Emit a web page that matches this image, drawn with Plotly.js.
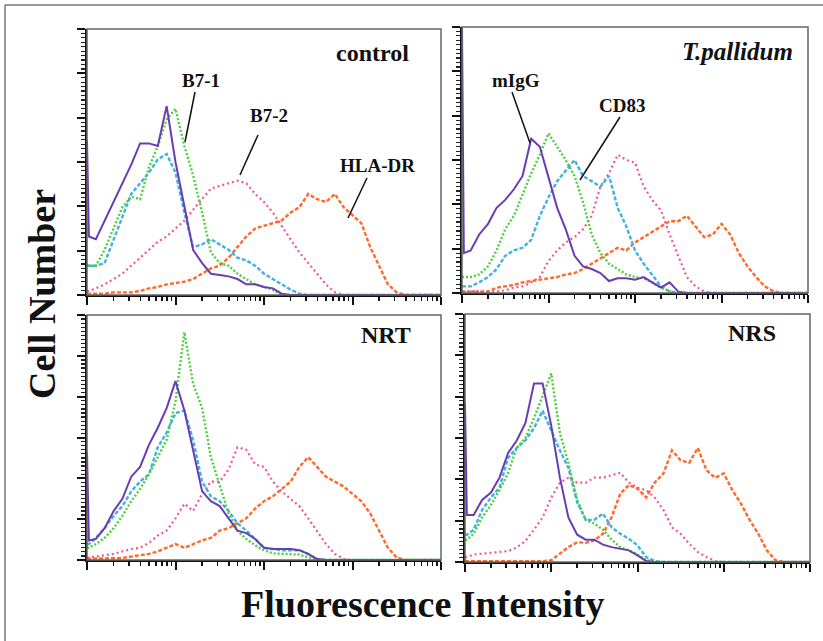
<!DOCTYPE html>
<html>
<head>
<meta charset="utf-8">
<script src="https://cdn.plot.ly/plotly-3.0.1.min.js"></script>
<style>html,body{margin:0;padding:0;background:#fff;}#chart{width:823px;height:641px;}</style>
</head>
<body>
<div id="chart"></div>
<script>
// Fluorescence intensity channels (log scale, 10^0 .. 10^4)
const intensity = [1, 1.05, 1.26, 1.58, 2.0, 2.51, 3.16, 3.98, 5.01, 6.31, 7.94,
  10, 12.6, 15.8, 20, 25.1, 31.6, 39.8, 50.1, 63.1, 79.4,
  100, 126, 158, 200, 251, 316, 398, 501, 631, 794,
  1000, 1259, 1585, 1995, 2512, 3162, 3981, 5012, 6310, 7943, 10000];

const seriesNames = ["mIgG", "B7-1", "CD83", "B7-2", "HLA-DR"];
const panelNames = ["control", "T.pallidum", "NRT", "NRS"];

// Cell number (% of axis height) — control
const control_mIgG = [58,22, 21,28,35,42,49,57,57,56,71,50,33,17,12,8,7.5,7,6,4,4,3,2.5,0.5, 0,0,0,0,0,0,0,0,0,0,0,0,0,0,0,0,0,0];
const control_B71  = [11,11, 11,17,25,33,37,36,48,56,66,70,56,45,31,16,12,11,8,6,4,3,2,0, 0,0,0,0,0,0,0,0,0,0,0,0,0,0,0,0,0,0];
const control_CD83 = [11,11, 11,12,21,30,38,42,46,51,53,46,31,18,19,21,19,17,14,13,11,8,6,4,2,0.5, 0,0,0,0,0,0,0,0,0,0,0,0,0,0,0,0];
const control_B72  = [1.5,1.5, 2.5,4,6,8,11,14,17,20,22,25,28,32,36,40,41,42,43,42,38,35,31,26,21,16,12,8,4,1, 0,0,0,0,0,0,0,0,0,0,0,0];
const control_HLADR= [0.5,0.5, 0.5,0.5,1,1,1,1.5,2.5,3,4,4.5,5,6,8,10,11,14,18,22,25,26,27,28,31,33,38,36,35,38,33,30,27,18,11,4,1, 0,0,0,0,0];

// T.pallidum
const tp_mIgG = [100,15, 16,22,26,32,35,39,44,58,55,44,32,24,14,10,9,7.5,4.5,5.5,5.5,5,6,4,2,4,0.5, 0,0,0,0,0,0,0,0,0,0,0,0,0,0];
const tp_B71  = [6,6, 6,7,10,16,24,29,37,45,52,60,55,50,44,34,22,15,11,9,7,6,5.5,4,2,0.6, 0,0,0,0,0,0,0,0,0,0,0,0,0,0,0,0];
const tp_CD83 = [2.5,2.5, 2.5,4,6,9,14,16,17,20,29,36,42,46,50,44,42,40,44,32,25,16,11,7,2.5,0.6, 0,0,0,0,0,0,0,0,0,0,0,0,0,0,0,0];
const tp_B72  = [0.6,0.6, 0.6,0.6,0.6,0.6,1,2,2.5,4,6,12,16,19,21,24,29,40,45,52,50,49,40,35,31,22,14,6,2.5,0.6, 0,0,0,0,0,0,0,0,0,0,0,0];
const tp_HLADR= [0.5,0.5, 0.5,0.5,0.5,2,2.5,3,4,4.5,5,5.5,6,7,7.5,9,11,13,15,17,16,19,21,23,25,27,27,29,25,21,22,26,22,15,10,6,2.5,0.6, 0,0,0,0];

// NRT
const nrt_mIgG = [44,8, 8.6,13,20,25,34,38,47,54,62,73,61,45,28,24,22,17,12,11,8.6,5,4.5,4.5,4.5,4,2.5,0.4, 0,0,0,0,0,0,0,0,0,0,0,0,0,0];
const nrt_B71  = [5,5, 6.5,9,13,18,24,29,35,42,49,65,93,72,62,42,30,19,12,8.6,6,4,2.7,2.5,2.5,2.2,1.1,0.3, 0,0,0,0,0,0,0,0,0,0,0,0,0,0];
const nrt_CD83 = [6.5,6.5, 9,13,18,22,28,32,35,46,52,60,61,49,32,26,24,20,15,12,8.6,5,4.5,4,4,4,2.5,0.4, 0,0,0,0,0,0,0,0,0,0,0,0,0,0];
const nrt_B72  = [1,1, 1.4,1.8,2.5,3.5,4.5,5,7,10,12,17,23,20,27,32,32,37,46,45,39,38,32,28,25,22,17,12,6.5,2.5,0.4, 0,0,0,0,0,0,0,0,0,0,0];
const nrt_HLADR= [0.5,0.5, 0.5,0.5,0.5,0.8,1.4,1.8,2.5,3.5,5,6.5,5,6.5,8,9,12,13,15,17,21,24,26,29,32,38,42,38,34,32,30,27,24,19,12,5,1, 0,0,0,0,0];

// NRS
const nrs_mIgG = [64,19, 19,25,28,34,44,49,56,72,72,55,34,18,11,9,9,7,6,5.4,4.7,2.7,0.4, 0,0,0,0,0,0,0,0,0,0,0,0,0,0,0,0,0,0,0];
const nrs_B71  = [9,9, 11.4,18,23,29,36,46,50,58,67,76,52,40,25,17,15.5,13,9,6,4.7,3,0.7, 0,0,0,0,0,0,0,0,0,0,0,0,0,0,0,0,0,0,0];
const nrs_CD83 = [11,11, 13,21,26,30,42,46,49,54,61,53,45,38,24,17,17,19.5,14,11.4,9.4,6.7,2,0.4, 0,0,0,0,0,0,0,0,0,0,0,0,0,0,0,0,0,0];
const nrs_B72  = [2,2, 3,3.4,3.6,4,4.4,5.8,8.5,13,18,26,32,34,32,32,34,34,35,36,32,30,29,26,21,14,11.4,7.4,4,2,0.4, 0,0,0,0,0,0,0,0,0,0,0];
const nrs_HLADR= [0.3,0.3, 0.3,0.3,0.3,0.3,0.3,0.3,0.3,0.3,0.3,0.7,3.4,6,8,7.7,8.7,11.4,18,27.6,31,29.6,26,32,35.7,45,41,40,46,37,34,35.7,29,23.5,17,11.4,4.7,0.7, 0,0,0,0];

const panels = [
  {mIgG: control_mIgG, B71: control_B71, CD83: control_CD83, B72: control_B72, HLADR: control_HLADR},
  {mIgG: tp_mIgG, B71: tp_B71, CD83: tp_CD83, B72: tp_B72, HLADR: tp_HLADR},
  {mIgG: nrt_mIgG, B71: nrt_B71, CD83: nrt_CD83, B72: nrt_B72, HLADR: nrt_HLADR},
  {mIgG: nrs_mIgG, B71: nrs_B71, CD83: nrs_CD83, B72: nrs_B72, HLADR: nrs_HLADR}
];

// ---------- styling / layout ----------
const W = 823, H = 641;
const fx = p => p / W;
const fy = p => 1 - p / H;

const styles = {
  HLADR: {color: "#ff6a2a", dash: "4px,2px", width: 2.4},
  B72:   {color: "#f4558f", dash: "2px,3px", width: 2.2},
  CD83:  {color: "#3fb1e3", dash: "4px,2px", width: 2.4},
  B71:   {color: "#4ccf3c", dash: "2px,2px", width: 2.4},
  mIgG:  {color: "#6a3cb4", dash: "solid", width: 2}
};
const order = ["HLADR", "B72", "CD83", "B71", "mIgG"];
const keyName = {HLADR: "HLA-DR", B72: "B7-2", CD83: "CD83", B71: "B7-1", mIgG: "mIgG"};

// panel boxes in pixels: [left, right, top, bottom]
const boxes = [
  [87, 441, 29, 295],
  [462, 808, 27, 293],
  [87, 441, 315, 560],
  [465, 810, 314, 562]
];

const traces = [];
panels.forEach((p, i) => {
  const sfx = i === 0 ? "" : String(i + 1);
  order.forEach(k => {
    traces.push({
      type: "scatter", mode: "lines",
      x: intensity, y: p[k],
      name: keyName[k],
      xaxis: "x" + sfx, yaxis: "y" + sfx,
      line: {color: styles[k].color, dash: styles[k].dash, width: styles[k].width, shape: "linear"},
      showlegend: false, hoverinfo: "skip"
    });
  });
});

const layout = {
  width: W, height: H,
  margin: {l: 0, r: 0, t: 0, b: 0},
  paper_bgcolor: "#fff", plot_bgcolor: "#fff",
  showlegend: false,
  font: {family: "Liberation Serif, Times New Roman, serif", color: "#111"},
  shapes: [], annotations: []
};

boxes.forEach((b, i) => {
  const sfx = i === 0 ? "" : String(i + 1);
  layout["xaxis" + sfx] = {
    type: "log", range: [0, 4], dtick: 1, domain: [fx(b[0]), fx(b[1])],
    anchor: "y" + sfx, showticklabels: false, showgrid: false, zeroline: false,
    ticks: "outside", ticklen: 8, tickwidth: 2, tickcolor: "#111",
    showline: true, linecolor: "#111", linewidth: 2,
    minor: {ticks: "outside", ticklen: 4, tickwidth: 1.5, tickcolor: "#111", dtick: "D1", showgrid: false}
  };
  layout["yaxis" + sfx] = {
    range: [0, 100], tick0: 0, dtick: 100 / 6, domain: [fy(b[3]), fy(b[2])],
    anchor: "x" + sfx, showticklabels: false, showgrid: false, zeroline: false,
    ticks: "outside", ticklen: 8, tickwidth: 2, tickcolor: "#111",
    showline: true, linecolor: "#111", linewidth: 2,
    minor: {ticks: "outside", ticklen: 4, tickwidth: 1.2, tickcolor: "#222", dtick: 100 / 60, showgrid: false}
  };
  layout.shapes.push({type: "rect", xref: "x" + sfx + " domain", yref: "y" + sfx + " domain",
    x0: 0, x1: 1, y0: 0, y1: 1, line: {color: "#666", width: 1.5}});
});

// outer frame
layout.shapes.push({type: "line", xref: "paper", yref: "paper", x0: fx(5), x1: fx(5), y0: fy(5), y1: fy(641), line: {color: "#777", width: 1.5}});
layout.shapes.push({type: "line", xref: "paper", yref: "paper", x0: fx(5), x1: fx(823), y0: fy(5), y1: fy(5), line: {color: "#777", width: 1.5}});

// leader lines
const leaders = [[195, 92, 185, 142], [258, 135, 240, 175], [367, 178, 348, 218], [512, 92, 530, 143], [620, 117, 580, 180]];
leaders.forEach(l => layout.shapes.push({type: "line", xref: "paper", yref: "paper",
  x0: fx(l[0]), y0: fy(l[1]), x1: fx(l[2]), y1: fy(l[3]), line: {color: "#111", width: 1.5}}));

function ann(text, x, y, size, extra) {
  layout.annotations.push(Object.assign({
    text: text, xref: "paper", yref: "paper", x: fx(x), y: fy(y),
    xanchor: "center", yanchor: "middle", showarrow: false,
    font: {family: "Liberation Serif, Times New Roman, serif", size: size, color: "#111"}
  }, extra || {}));
}
ann("<b>" + panelNames[0] + "</b>", 372, 53, 24);
ann("<b><i>" + panelNames[1] + "</i></b>", 737, 52, 25);
ann("<b>" + panelNames[2] + "</b>", 386, 335, 24);
ann("<b>" + panelNames[3] + "</b>", 752, 333, 24);
ann("<b>B7-1</b>", 201, 80, 19);
ann("<b>B7-2</b>", 269, 115, 19);
ann("<b>HLA-DR</b>", 377, 165, 19);
ann("<b>mIgG</b>", 516, 80, 19);
ann("<b>CD83</b>", 622, 105, 19);
ann("<b>Cell Number</b>", 42, 294, 38, {textangle: -90});
ann("<b>Fluorescence Intensity</b>", 422, 604, 38);

Plotly.newPlot("chart", traces, layout, {staticPlot: true, displayModeBar: false});
</script>
</body>
</html>
